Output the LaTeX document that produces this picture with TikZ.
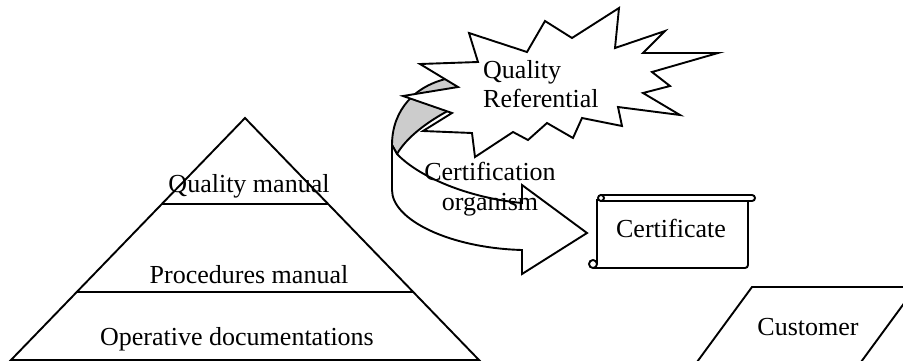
\documentclass[tikz,border=0pt]{standalone}
\usepackage{fontspec}
\setmainfont{Liberation Serif}
\begin{document}
\begin{tikzpicture}[x=1pt,y=-1pt,
  txt/.style={font=\fontsize{26}{30}\selectfont, inner sep=0pt, anchor=base},
  outline/.style={line width=1.9pt, line join=miter}]
\clip (0,0) rectangle (903,360);
% pyramid of documents
\coordinate (apex) at (245,118);
\coordinate (bl) at (11,360);
\coordinate (br) at (479,360);
\draw[outline] (bl) -- (apex) -- (br) -- cycle;
\draw[outline] (162,204) -- (328,204);
\draw[outline] (77,292) -- (413,292);
\node[txt] (qm) at (249,192) {Quality manual};
\node[txt] (pm) at (249,283) {Procedures manual};
\node[txt] (od) at (237,345) {Operative documentations};

% curved arrow, back part
\draw[outline, fill=black!20] (392,145) .. controls (392,110) and (415,85) .. (450,78)
  .. controls (465,75) and (480,72) .. (490,70) -- (470,100)
  .. controls (425,120) and (405,140) .. (397,154) -- cycle;

% quality referential
\draw[outline, fill=white] (420,64) -- (478,62) -- (469,33) -- (527,52) -- (545,21)
  -- (572,38) -- (619,8) -- (615,48) -- (665,31) -- (643,53) -- (718,53)
  -- (652,72) -- (670,86) -- (643,93) -- (680,115) -- (618,107) -- (622,126)
  -- (582,118) -- (573,138) -- (547,123) -- (528,140) -- (513,132) -- (475,157)
  -- (472,133) -- (423,131) -- (452,113) -- (403,96) -- (458,87) -- cycle;
\node[txt, anchor=base west] (qr1) at (483,78) {Quality};
\node[txt, anchor=base west] (qr2) at (483,107) {Referential};

% curved arrow, front part
\draw[outline, fill=white] (392,145) -- (392,190) .. controls (392,220) and (450,248) .. (522,250)
  -- (522,274) -- (587,233) -- (522,185) -- (522,203)
  .. controls (470,198) and (420,178) .. (397,154) -- cycle;
\node[txt] (co1) at (490,180) {Certification};
\node[txt] (co2) at (490,210) {organism};

% certificate scroll
\draw[outline, rounded corners=3pt] (600,195) -- (755,195) -- (755,201) -- (600,201);
\draw[outline] (601,198) circle[radius=3pt];
\draw[outline] (597,199) -- (597,264);
\draw[outline, rounded corners=3pt] (748,201) -- (748,268) -- (593,268);
\draw[outline] (593,264) circle[radius=4pt];
\node[txt] (cert) at (671,237) {Certificate};

% customer
\draw[outline] (697,362) -- (752,287) -- (916,287) -- (861,362) -- cycle;
\node[txt] (cust) at (808,335) {Customer};
\end{tikzpicture}
\end{document}
